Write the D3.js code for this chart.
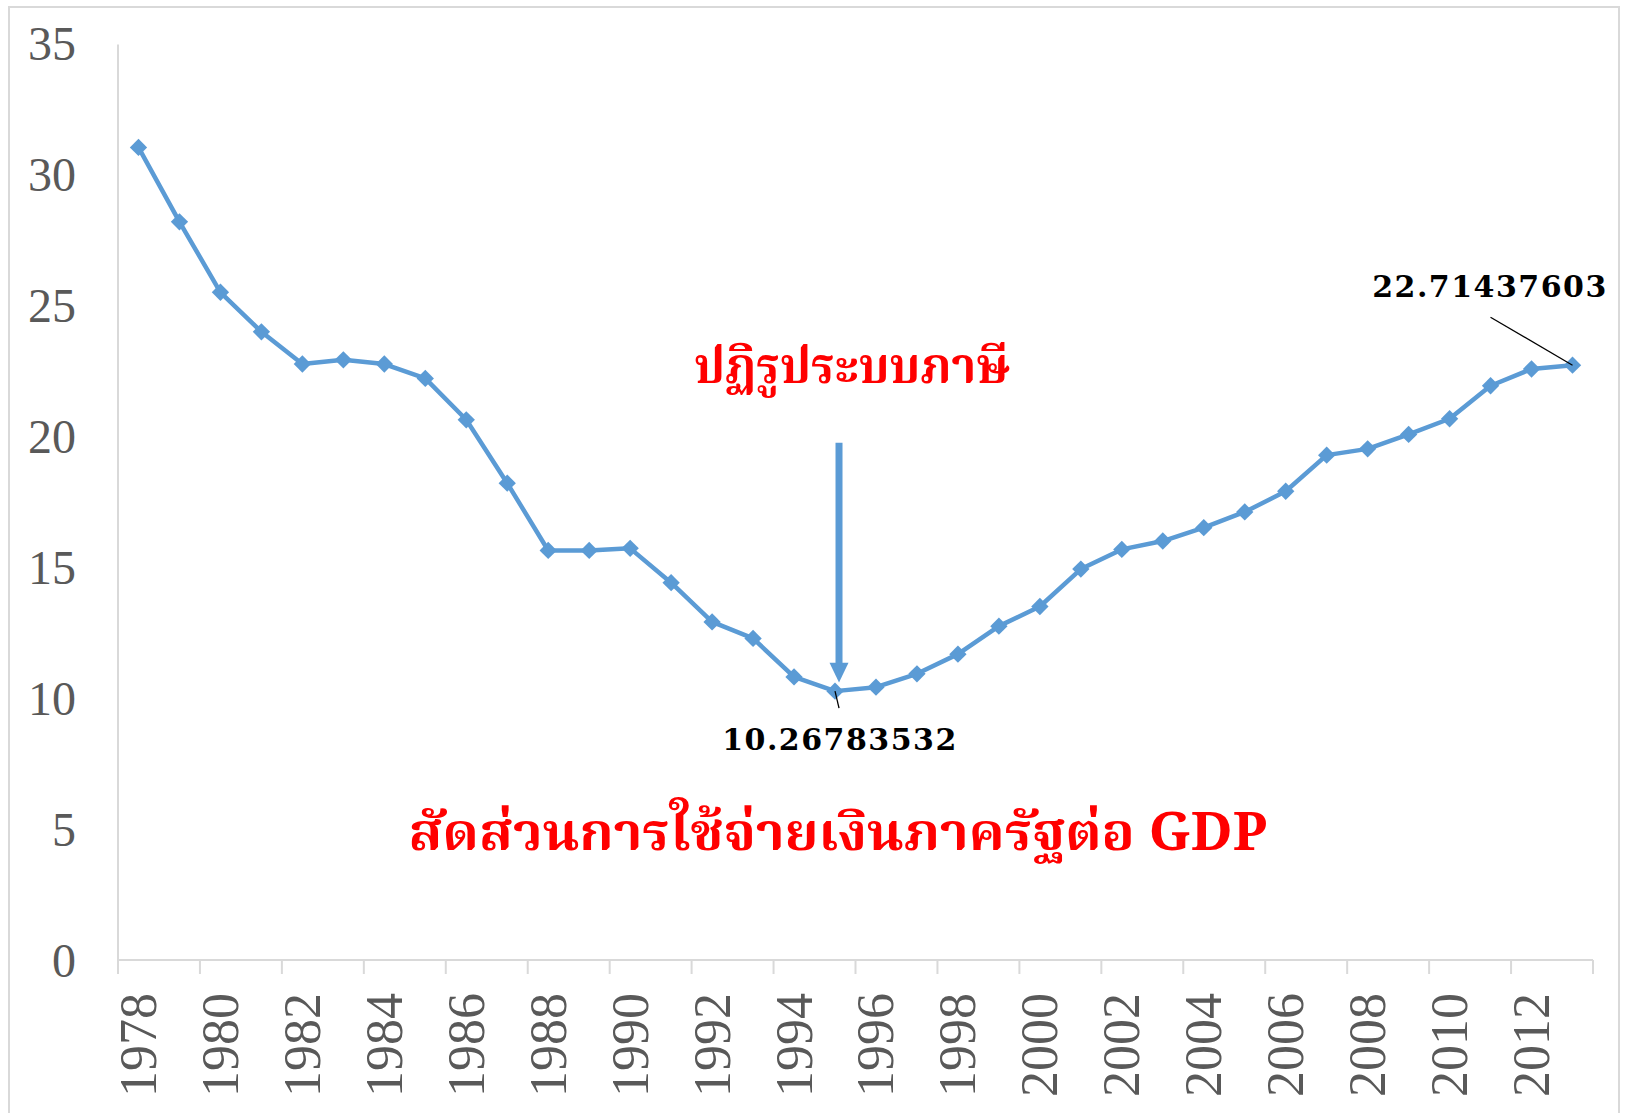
<!DOCTYPE html>
<meta charset="utf-8">
<script src="https://d3js.org/d3.v7.min.js"></script>
<style>
  body { margin: 0; background: #fff; }
</style>
<div id="chart"></div>
<script>
// data: government spending share of GDP (%)
var years = d3.range(1978, 2014);
var values = [31.03, 28.19, 25.50, 23.99, 22.76, 22.92, 22.76, 22.21, 20.63, 18.21,
              15.64, 15.64, 15.72, 14.41, 12.91, 12.28, 10.81, 10.26783532, 10.42, 10.93,
              11.68, 12.75, 13.50, 14.93, 15.68, 16.00, 16.51, 17.11, 17.90, 19.28,
              19.52, 20.07, 20.67, 21.93, 22.57, 22.71437603];
var yTicks = [0, 5, 10, 15, 20, 25, 30, 35];
var xTickYears = d3.range(1978, 2014, 2);
var title = "สัดส่วนการใช้จ่ายเงินภาครัฐต่อ GDP";
var note = "ปฏิรูประบบภาษี";

var W = 1625, H = 1113;
var svg = d3.select("#chart").append("svg")
    .attr("width", W)
    .attr("height", H);

// chart frame
svg.append("rect")
    .attr("x", 9).attr("y", 7)
    .attr("width", 1610).attr("height", 1120)
    .attr("fill", "#fff")
    .attr("stroke", "#d9d9d9")
    .attr("stroke-width", 2);

var x = d3.scaleBand().domain(years).range([118, 1593]).padding(0);
var y = d3.scaleLinear().domain([0, 35]).range([960, 43.5]);
var cx = function(yr) { return x(yr) + x.bandwidth() / 2; };

var grey = "#d9d9d9", textGrey = "#595959", blue = "#5B9BD5";
var serif = "'Liberation Serif', 'Times New Roman', serif";
var thai = "'Noto Serif Thai', 'Noto Sans Thai', 'Loma', 'Garuda', 'Norasi', 'Tlwg Typo', 'Sarabun', sans-serif";

// y axis
svg.append("line")
    .attr("x1", 118).attr("x2", 118)
    .attr("y1", y(35) + 1).attr("y2", y(0))
    .attr("stroke", grey).attr("stroke-width", 2);
svg.append("g").selectAll("text")
    .data(yTicks).enter().append("text")
    .attr("x", 76)
    .attr("y", function(d) { return y(d); })
    .attr("text-anchor", "end")
    .attr("dominant-baseline", "central")
    .attr("font-family", serif)
    .attr("font-size", 48)
    .attr("fill", textGrey)
    .text(function(d) { return d; });

// x axis
svg.append("line")
    .attr("x1", 118).attr("x2", 1593)
    .attr("y1", y(0)).attr("y2", y(0))
    .attr("stroke", grey).attr("stroke-width", 2);
var tickPos = xTickYears.map(function(d) { return x(d); }).concat([x.range()[1]]);
svg.append("g").selectAll("line")
    .data(tickPos).enter().append("line")
    .attr("x1", function(d) { return d; })
    .attr("x2", function(d) { return d; })
    .attr("y1", y(0)).attr("y2", y(0) + 14)
    .attr("stroke", grey).attr("stroke-width", 2);
svg.append("g").selectAll("text")
    .data(xTickYears).enter().append("text")
    .attr("transform", function(d) { return "translate(" + cx(d) + ",993) rotate(-90)"; })
    .attr("text-anchor", "end")
    .attr("dominant-baseline", "central")
    .attr("font-family", serif)
    .attr("font-size", 52)
    .attr("fill", textGrey)
    .text(function(d) { return d; });

// series line
var line = d3.line()
    .x(function(d, i) { return cx(years[i]); })
    .y(function(d) { return y(d); });
svg.append("path")
    .datum(values)
    .attr("d", line)
    .attr("fill", "none")
    .attr("stroke", blue)
    .attr("stroke-width", 4.5)
    .attr("stroke-linejoin", "round");

svg.append("g").selectAll("path")
    .data(values).enter().append("path")
    .attr("d", d3.symbol().type(d3.symbolSquare).size(150))
    .attr("transform", function(d, i) { return "translate(" + cx(years[i]) + "," + y(d) + ") rotate(45)"; })
    .attr("fill", blue);

// arrow pointing to 1995
var ax = cx(1995) + 4;
svg.append("line")
    .attr("x1", ax).attr("x2", ax)
    .attr("y1", y(19.75)).attr("y2", y(11.3))
    .attr("stroke", blue).attr("stroke-width", 7);
svg.append("path")
    .attr("d", "M" + (ax - 9.5) + "," + y(11.35) + "L" + (ax + 9.5) + "," + y(11.35) + "L" + ax + "," + y(10.6) + "Z")
    .attr("fill", blue);

// data labels with leader lines
var iMin = years.indexOf(1995), iLast = years.length - 1;
svg.append("line")
    .attr("x1", cx(1995)).attr("y1", y(values[iMin]))
    .attr("x2", cx(1995) + 4).attr("y2", y(values[iMin]) + 17)
    .attr("stroke", "#000").attr("stroke-width", 1.3);
svg.append("line")
    .attr("x1", cx(2013)).attr("y1", y(values[iLast]))
    .attr("x2", cx(2013) - 82).attr("y2", y(values[iLast]) - 48)
    .attr("stroke", "#000").attr("stroke-width", 1.3);

var labelFont = "'DejaVu Serif', serif";
svg.append("text")
    .attr("x", 840).attr("y", 750)
    .attr("text-anchor", "middle")
    .attr("font-family", labelFont)
    .attr("font-weight", "bold")
    .attr("font-size", 30)
    .attr("letter-spacing", 1.5)
    .text(values[iMin].toFixed(8));
svg.append("text")
    .attr("x", 1490).attr("y", 297)
    .attr("text-anchor", "middle")
    .attr("font-family", labelFont)
    .attr("font-weight", "bold")
    .attr("font-size", 30)
    .attr("letter-spacing", 1.5)
    .text(values[iLast].toFixed(8));

// red annotations
svg.append("text")
    .attr("x", 852).attr("y", 383)
    .attr("text-anchor", "middle")
    .attr("font-family", thai)
    .attr("font-weight", "bold")
    .attr("font-size", 50)
    .attr("fill", "#ff0000")
    .attr("textLength", 316)
    .attr("lengthAdjust", "spacingAndGlyphs")
    .text(note);
svg.append("text")
    .attr("x", 838).attr("y", 850)
    .attr("text-anchor", "middle")
    .attr("font-family", thai)
    .attr("font-weight", "bold")
    .attr("font-size", 52)
    .attr("fill", "#ff0000")
    .attr("textLength", 859)
    .attr("lengthAdjust", "spacingAndGlyphs")
    .text(title);
</script>
